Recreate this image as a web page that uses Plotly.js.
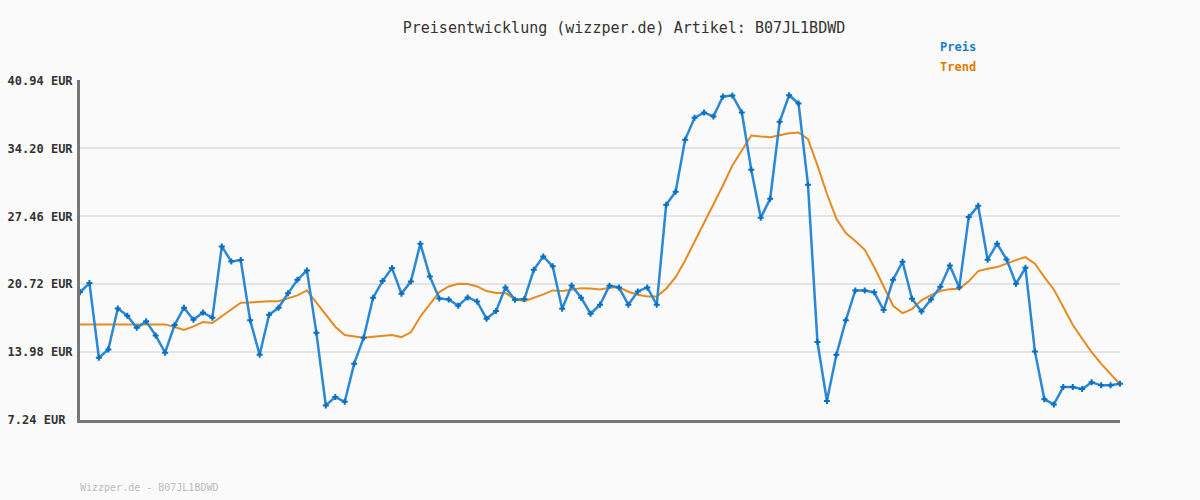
<!DOCTYPE html>
<html>
<head>
<meta charset="utf-8">
<script src="https://cdn.plot.ly/plotly-3.0.1.min.js"></script>
<style>
  html, body { margin: 0; padding: 0; background: #fafafa; }
  #chart { width: 1200px; height: 500px; }
</style>
</head>
<body>
<div id="chart"></div>
<script>
// Price series (EUR), one value per sample
const price = [
  19.91, 20.83, 13.42, 14.25, 18.32, 17.59, 16.40, 17.03, 15.64, 13.92,
  16.66, 18.38, 17.19, 17.92, 17.39, 24.47, 22.98, 23.11, 17.13, 13.72,
  17.69, 18.38, 19.81, 21.16, 22.09, 15.91, 8.69, 9.52, 9.05, 12.83,
  15.41, 19.38, 21.03, 22.32, 19.77, 21.00, 24.74, 21.49, 19.31, 19.21,
  18.58, 19.41, 19.01, 17.29, 18.05, 20.40, 19.18, 19.24, 22.15, 23.48,
  22.49, 18.29, 20.60, 19.38, 17.79, 18.68, 20.57, 20.40, 18.68, 20.00,
  20.40, 18.68, 28.60, 29.89, 35.05, 37.24, 37.76, 37.37, 39.35, 39.45,
  37.76, 32.08, 27.32, 29.20, 36.84, 39.48, 38.66, 30.59, 14.98, 9.12,
  13.72, 17.13, 20.10, 20.10, 19.91, 18.15, 21.16, 22.95, 19.28, 18.02,
  19.21, 20.47, 22.58, 20.40, 27.38, 28.50, 23.15, 24.74, 23.18, 20.76,
  22.35, 14.05, 9.29, 8.79, 10.51, 10.51, 10.31, 10.98, 10.68, 10.68,
  10.84
];

// Trend series (EUR)
const trend = [
  16.73, 16.73, 16.73, 16.73, 16.73, 16.73, 16.73, 16.73, 16.73, 16.73,
  16.47, 16.17, 16.53, 16.96, 16.86, 17.52, 18.19, 18.88, 18.91, 18.98,
  19.04, 19.04, 19.34, 19.61, 20.10, 18.93, 17.70, 16.50, 15.67, 15.57,
  15.41, 15.51, 15.57, 15.67, 15.47, 15.94, 17.52, 18.78, 19.94, 20.50,
  20.76, 20.73, 20.50, 20.04, 19.84, 19.84, 19.24, 19.04, 19.34, 19.71,
  20.10, 20.04, 20.17, 20.33, 20.30, 20.20, 20.36, 20.43, 19.97, 19.67,
  19.51, 19.51, 20.27, 21.42, 23.08, 24.90, 26.72, 28.54, 30.52, 32.51,
  34.00, 35.48, 35.38, 35.31, 35.51, 35.71, 35.78, 35.12, 32.51, 29.70,
  27.22, 25.79, 25.00, 24.14, 22.42, 20.43, 18.58, 17.85, 18.25, 19.12,
  19.64, 20.04, 20.23, 20.27, 21.00, 22.02, 22.26, 22.42, 22.78, 23.11,
  23.41, 22.75, 21.42, 20.20, 18.45, 16.70, 15.31, 13.98, 12.83, 11.84,
  10.78
];

// Y axis ticks
const yTickVals = [7.24, 13.98, 20.72, 27.46, 34.20, 40.94];
const yTickText = ["7.24 EUR\u00a0", "13.98 EUR", "20.72 EUR", "27.46 EUR", "34.20 EUR", "40.94 EUR"];

const titleText = "Preisentwicklung (wizzper.de) Artikel: B07JL1BDWD";
const footerText = "Wizzper.de - B07JL1BDWD";
const seriesNames = ["Preis", "Trend"];

const mono = "DejaVu Sans Mono, Liberation Mono, monospace";

const traces = [
  {
    y: trend,
    type: "scatter",
    mode: "lines",
    name: seriesNames[1],
    line: { color: "#e68a22", width: 2 },
    hoverinfo: "y"
  },
  {
    y: price,
    type: "scatter",
    mode: "lines+markers",
    name: seriesNames[0],
    line: { color: "#2a88d4", width: 2.5 },
    marker: { symbol: "cross", size: 5, color: "#0a6fc0", line: { width: 0 } },
    cliponaxis: false,
    hoverinfo: "y"
  }
];

const layout = {
  width: 1200,
  height: 500,
  paper_bgcolor: "#fafafa",
  plot_bgcolor: "#fafafa",
  margin: { l: 80, r: 80, t: 80, b: 80, pad: 0 },
  showlegend: false,
  font: { family: mono, color: "#333" },
  title: {
    text: titleText,
    font: { family: mono, size: 15, color: "#333" },
    x: 0.52, xref: "container", xanchor: "center",
    y: 1 - 28 / 500, yref: "container", yanchor: "middle"
  },
  xaxis: {
    range: [0, 110],
    showgrid: false,
    zeroline: false,
    showticklabels: false,
    ticks: "",
    showline: true,
    linecolor: "#777",
    linewidth: 3
  },
  yaxis: {
    range: [7.24, 40.99],
    tickmode: "array",
    tickvals: yTickVals,
    ticktext: yTickText,
    tickfont: { family: mono, size: 12, color: "#333", weight: "bold" },
    ticks: "",
    ticklabelstandoff: 2,
    showgrid: true,
    gridcolor: "#e4e4e4",
    gridwidth: 2,
    zeroline: false,
    showline: true,
    linecolor: "#777",
    linewidth: 3
  },
  annotations: [
    {
      text: "<b>" + seriesNames[0] + "</b>",
      xref: "paper", yref: "paper",
      x: (938 - 80) / 1040, y: (420 - 47) / 340,
      xanchor: "left", yanchor: "middle", showarrow: false,
      font: { family: mono, size: 12, color: "#1a7ccc" }
    },
    {
      text: "<b>" + seriesNames[1] + "</b>",
      xref: "paper", yref: "paper",
      x: (938 - 80) / 1040, y: (420 - 67) / 340,
      xanchor: "left", yanchor: "middle", showarrow: false,
      font: { family: mono, size: 12, color: "#e07b00" }
    },
    {
      text: footerText,
      xref: "paper", yref: "paper",
      x: -0.002, y: (420 - 487) / 340,
      xanchor: "left", yanchor: "middle", showarrow: false,
      font: { family: mono, size: 10, color: "#bbbbbb" }
    }
  ]
};

Plotly.newPlot("chart", traces, layout, { displayModeBar: false, staticPlot: true });
</script>
</body>
</html>
